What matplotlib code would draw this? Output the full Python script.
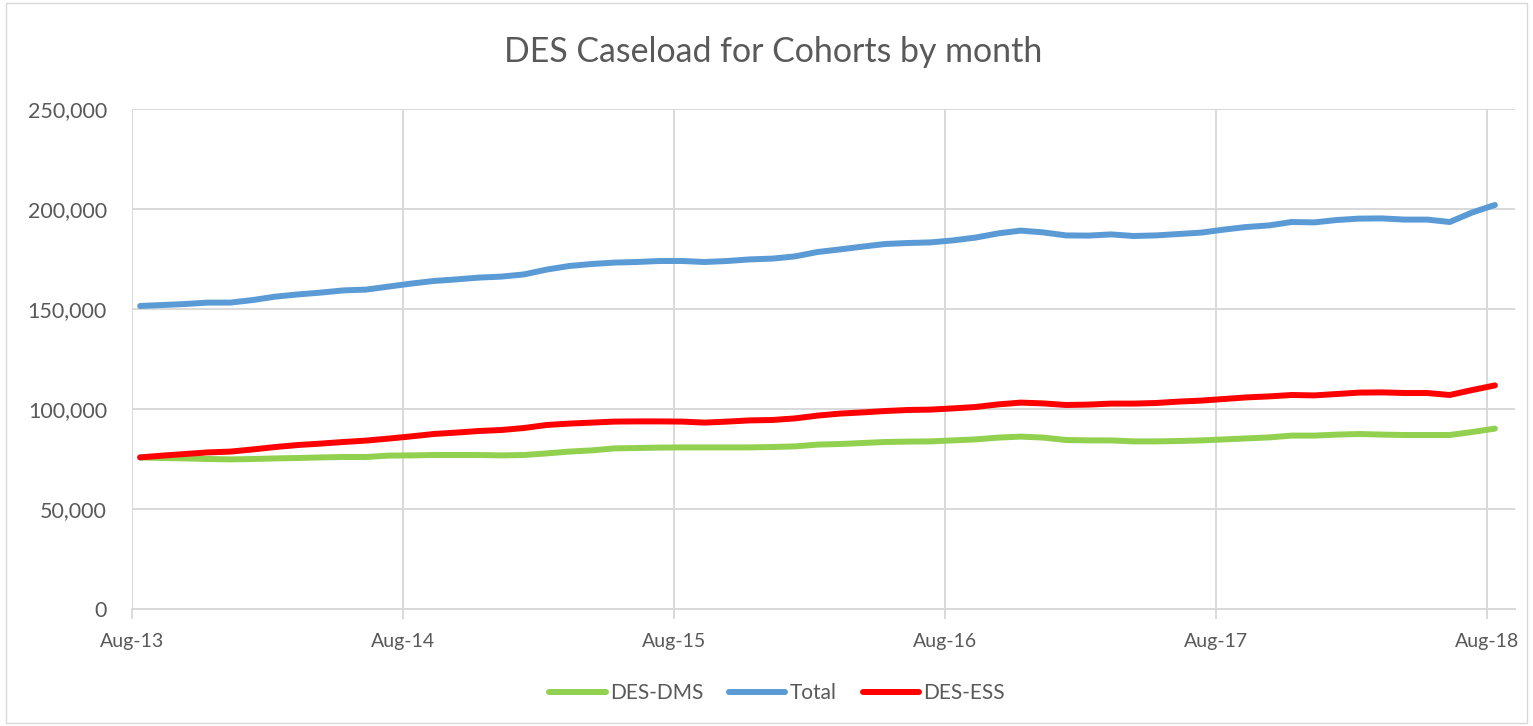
import numpy as np
import matplotlib
matplotlib.use("Agg")
import matplotlib.pyplot as plt
from matplotlib.ticker import FuncFormatter
from matplotlib.patches import Rectangle

plt.rcParams['font.family'] = ['Lato', 'DejaVu Sans']

title = "DES Caseload for Cohorts by month"
tick_labels = ["Aug-13", "Aug-14", "Aug-15", "Aug-16", "Aug-17", "Aug-18"]

des_dms = [75800, 75500, 75300, 75000, 74800, 75000, 75300, 75500, 75800, 76000,
           76000, 76700, 76800, 77000, 77000, 77000, 76800, 77000, 77800, 78700,
           79300, 80300, 80500, 80700, 80800, 80800, 80800, 80800, 81000, 81300,
           82200, 82500, 83000, 83500, 83700, 83800, 84300, 84800, 85700, 86200,
           85700, 84500, 84300, 84300, 83800, 83800, 84000, 84300, 84800, 85300,
           85800, 86700, 86700, 87200, 87500, 87200, 87000, 87000, 87000, 88500,
           90200]

total = [151500, 152000, 152500, 153200, 153200, 154500, 156200, 157300, 158200, 159300,
         159700, 161200, 162700, 164000, 164800, 165700, 166200, 167300, 169700, 171500,
         172500, 173200, 173500, 174000, 174000, 173500, 174000, 174800, 175200, 176300,
         178500, 179800, 181200, 182500, 183000, 183300, 184300, 185700, 187800, 189200,
         188300, 186800, 186700, 187300, 186500, 186800, 187500, 188200, 189700, 191000,
         191800, 193500, 193300, 194500, 195200, 195300, 194700, 194700, 193500, 198300,
         202000]

des_ess = [75800, 76700, 77500, 78300, 78700, 79800, 81000, 82000, 82700, 83500,
           84200, 85200, 86300, 87500, 88200, 89000, 89500, 90500, 92000, 92700,
           93200, 93700, 93800, 93800, 93700, 93200, 93700, 94300, 94500, 95300,
           96700, 97700, 98300, 99000, 99500, 99700, 100300, 101000, 102300, 103200,
           102800, 102000, 102200, 102700, 102700, 103000, 103700, 104200, 105000, 105800,
           106300, 107000, 106800, 107500, 108200, 108300, 108000, 108000, 107000, 109500,
           111800]

W, H = 1533, 726
fig = plt.figure(figsize=(W / 100, H / 100), dpi=100)
fig.patches.append(Rectangle((0.004, 0.004), 0.992, 0.992, transform=fig.transFigure,
                             fill=False, edgecolor='#D9D9D9', linewidth=1.0))

ax = fig.add_axes([132 / W, 117 / H, (1515 - 132) / W, 500 / H])

x = np.arange(len(total)) + 0.36
lw = 4.3
ax.plot(x, des_dms, color='#92D050', lw=lw, solid_capstyle='round', solid_joinstyle='round', label='DES-DMS', zorder=3)
ax.plot(x, total, color='#5B9BD5', lw=lw, solid_capstyle='round', solid_joinstyle='round', label='Total', zorder=3)
ax.plot(x, des_ess, color='#FF0000', lw=lw, solid_capstyle='round', solid_joinstyle='round', label='DES-ESS', zorder=3)

ax.set_xlim(0, 61.25)
ax.set_ylim(0, 250000)
ax.set_yticks(np.arange(0, 250001, 50000))
ax.yaxis.set_major_formatter(FuncFormatter(lambda v, p: f"{int(v):,}"))
ax.set_xticks(np.arange(0, 61, 12))
ax.set_xticklabels(tick_labels)

grid_c = '#D9D9D9'
ax.grid(True, color=grid_c, linewidth=1.4, zorder=0)
ax.set_axisbelow(True)
for s in ['top', 'right', 'left']:
    ax.spines[s].set_visible(False)
ax.spines['bottom'].set_color(grid_c)
ax.spines['bottom'].set_linewidth(1.4)

ax.tick_params(axis='y', length=0, pad=18, labelsize=15.5, labelcolor='#595959')
ax.tick_params(axis='x', length=7, width=1.4, color=grid_c, direction='out', pad=10,
               labelsize=14, labelcolor='#595959')

fig.text(773.5 / W, 1 - 52 / H, title, ha='center', va='center', fontsize=24.4, color='#595959')

leg = ax.legend(loc='center', bbox_to_anchor=(777 / W, 33 / H), bbox_transform=fig.transFigure,
                ncol=3, frameon=False, fontsize=15, handlelength=2.7, handletextpad=0.2,
                columnspacing=1.25, labelcolor='#595959', borderpad=0)
for line in leg.get_lines():
    line.set_linewidth(4.3)
    line.set_solid_capstyle('round')

fig.savefig('out.png', dpi=100)
